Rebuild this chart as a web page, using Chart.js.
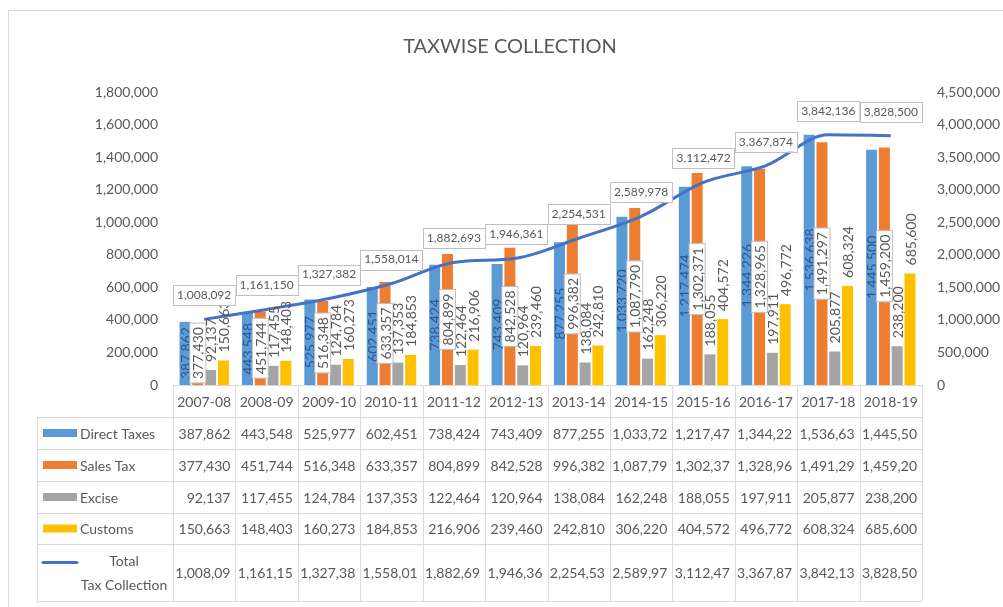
<!DOCTYPE html>
<html>
<head>
<meta charset="utf-8">
<script src="https://cdn.jsdelivr.net/npm/chart.js@4.4.1/dist/chart.umd.min.js"></script>
<style>
  body { margin: 0; background: #fff; }
</style>
</head>
<body>
<canvas id="myChart" width="1003" height="607"></canvas>
<script>
var years = ['2007-08', '2008-09', '2009-10', '2010-11', '2011-12', '2012-13', '2013-14', '2014-15', '2015-16', '2016-17', '2017-18', '2018-19'];
var directTaxes = [387862, 443548, 525977, 602451, 738424, 743409, 877255, 1033720, 1217474, 1344226, 1536638, 1445500];
var salesTax = [377430, 451744, 516348, 633357, 804899, 842528, 996382, 1087790, 1302371, 1328965, 1491297, 1459200];
var excise = [92137, 117455, 124784, 137353, 122464, 120964, 138084, 162248, 188055, 197911, 205877, 238200];
var customs = [150663, 148403, 160273, 184853, 216906, 239460, 242810, 306220, 404572, 496772, 608324, 685600];
var totalTax = [1008092, 1161150, 1327382, 1558014, 1882693, 1946361, 2254531, 2589978, 3112472, 3367874, 3842136, 3828500];
var leftTicks = [0, 200000, 400000, 600000, 800000, 1000000, 1200000, 1400000, 1600000, 1800000];
var rightTicks = [0, 500000, 1000000, 1500000, 2000000, 2500000, 3000000, 3500000, 4000000, 4500000];
var chartTitle = 'TAXWISE COLLECTION';

var grayText = '#595959';
var fontName = 'Lato';

function fmt(v){
  return v.toLocaleString('en-US');
}

// etichette sulle barre e sulla linea
var labelPlugin = {
  id: 'valueLabels',
  afterDatasetsDraw: function(chart){
    var ctx = chart.ctx;
    var bottom = chart.chartArea.bottom;
    ctx.save();
    ctx.textAlign = 'center';
    ctx.textBaseline = 'middle';
    chart.data.datasets.forEach(function(ds, i){
      var meta = chart.getDatasetMeta(i);
      meta.data.forEach(function(el, j){
        var txt = fmt(ds.data[j]);
        if (ds.type === 'line') {
          ctx.font = '12px ' + fontName;
          var w = ctx.measureText(txt).width;
          var cy = el.y - 24;
          ctx.fillStyle = '#fff';
          ctx.fillRect(el.x - w/2 - 4, cy - 10, w + 8, 20);
          ctx.strokeStyle = '#bfbfbf';
          ctx.lineWidth = 1;
          ctx.strokeRect(Math.round(el.x - w/2 - 4) + 0.5, Math.round(cy - 10) + 0.5, Math.round(w + 8), 20);
          ctx.fillStyle = grayText;
          ctx.fillText(txt, el.x, cy);
          return;
        }
        ctx.font = '14px ' + fontName;
        var tw = ctx.measureText(txt).width;
        var cy;
        if (ds.labelPos === 'center') {
          cy = (el.y + el.base) / 2;
          cy = Math.min(cy, bottom - tw/2 - 6);
        } else {
          cy = el.y - 8 - tw/2;
        }
        ctx.save();
        ctx.translate(el.x, cy);
        ctx.rotate(-Math.PI / 2);
        if (ds.labelBox) {
          ctx.fillStyle = '#fff';
          ctx.fillRect(-tw/2 - 4, -8, tw + 8, 16);
          ctx.strokeStyle = '#bfbfbf';
          ctx.lineWidth = 1;
          ctx.strokeRect(-tw/2 - 4, -8, tw + 8, 16);
        }
        ctx.fillStyle = ds.labelColor;
        ctx.fillText(txt, 0, 1);
        ctx.restore();
      });
    });
    ctx.restore();
  }
};

// tabella dati sotto il grafico + titolo + cornice
var tablePlugin = {
  id: 'dataTable',
  afterDraw: function(chart){
    var ctx = chart.ctx;
    var xs = chart.scales.x;
    var area = chart.chartArea;
    var colW = xs.width / years.length;
    var left = xs.left, right = xs.right;
    var tableLeft = 37;
    var top = area.bottom;
    var heights = [32, 32, 32, 32, 31, 57];
    var ys = [top];
    heights.forEach(function(h){ ys.push(ys[ys.length - 1] + h); });

    ctx.save();
    // cornice
    ctx.strokeStyle = '#d9d9d9';
    ctx.lineWidth = 1;
    ctx.beginPath();
    ctx.moveTo(8.5, 607); ctx.lineTo(8.5, 10.5); ctx.lineTo(1003, 10.5);
    ctx.stroke();

    // titolo
    ctx.fillStyle = grayText;
    ctx.font = '20px ' + fontName;
    ctx.textAlign = 'center';
    ctx.textBaseline = 'middle';
    ctx.fillText(chartTitle, 510, 47);

    // linee tabella
    ctx.strokeStyle = '#d9d9d9';
    ctx.beginPath();
    ctx.moveTo(left, Math.round(ys[0]) + 0.5); ctx.lineTo(right, Math.round(ys[0]) + 0.5);
    for (var r = 1; r < ys.length; r++) {
      ctx.moveTo(tableLeft, Math.round(ys[r]) + 0.5);
      ctx.lineTo(right, Math.round(ys[r]) + 0.5);
    }
    for (var c = 0; c <= years.length; c++) {
      var cx = Math.round(left + c * colW) + 0.5;
      ctx.moveTo(cx, ys[0]); ctx.lineTo(cx, ys[ys.length - 1]);
    }
    ctx.moveTo(tableLeft + 0.5, ys[1]); ctx.lineTo(tableLeft + 0.5, ys[ys.length - 1]);
    ctx.stroke();

    // intestazione anni
    ctx.font = '14px ' + fontName;
    ctx.fillStyle = grayText;
    ctx.textAlign = 'center';
    years.forEach(function(y, k){
      ctx.fillText(y, left + (k + 0.5) * colW, (ys[0] + ys[1]) / 2 + 1);
    });

    // righe
    chart.data.datasets.forEach(function(ds, i){
      var yTop = ys[i + 1], yBot = ys[i + 2];
      var cy = (yTop + yBot) / 2;
      // legenda
      if (ds.type === 'line') {
        ctx.strokeStyle = ds.borderColor;
        ctx.lineWidth = 3;
        ctx.lineCap = 'round';
        ctx.beginPath();
        ctx.moveTo(43, cy - 10); ctx.lineTo(77, cy - 10);
        ctx.stroke();
        ctx.fillStyle = grayText;
        ctx.textAlign = 'center';
        var parts = ['Total', 'Tax Collection'];
        ctx.fillText(parts[0], 124, cy - 11);
        ctx.fillText(parts[1], 124, cy + 13);
      } else {
        ctx.fillStyle = ds.backgroundColor;
        ctx.fillRect(43, cy - 4, 34, 8);
        ctx.fillStyle = grayText;
        ctx.textAlign = 'left';
        ctx.fillText(ds.label, 80, cy + 1);
      }
      // valori (tagliati come nell'originale)
      ctx.textAlign = 'right';
      ctx.fillStyle = grayText;
      ds.data.forEach(function(v, k){
        var t = fmt(v).slice(0, 8);
        ctx.fillText(t, left + (k + 1) * colW - 5, cy + 1);
      });
    });
    ctx.restore();
  }
};

var ctx = document.getElementById('myChart');
var chart = new Chart(ctx, {
  data: {
    labels: years,
    datasets: [
      { type: 'bar', label: 'Direct Taxes', data: directTaxes, backgroundColor: '#5B9BD5', yAxisID: 'y', order: 1,
        labelPos: 'center', labelBox: false, labelColor: '#2F5597' },
      { type: 'bar', label: 'Sales Tax', data: salesTax, backgroundColor: '#ED7D31', yAxisID: 'y', order: 1,
        labelPos: 'center', labelBox: true, labelColor: grayText },
      { type: 'bar', label: 'Excise', data: excise, backgroundColor: '#A5A5A5', yAxisID: 'y', order: 1,
        labelPos: 'end', labelBox: false, labelColor: grayText },
      { type: 'bar', label: 'Customs', data: customs, backgroundColor: '#FFC000', yAxisID: 'y', order: 1,
        labelPos: 'end', labelBox: false, labelColor: grayText },
      { type: 'line', label: 'Total Tax Collection', data: totalTax, borderColor: '#4472C4', borderWidth: 3,
        pointRadius: 0, cubicInterpolationMode: 'monotone', yAxisID: 'y1', order: 0 }
    ]
  },
  options: {
    responsive: false,
    animation: false,
    layout: { padding: { top: 92, bottom: 222, left: 0, right: 0 } },
    datasets: { bar: { categoryPercentage: 0.82, barPercentage: 0.86 } },
    plugins: {
      legend: { display: false },
      title: { display: false },
      tooltip: { enabled: false }
    },
    scales: {
      x: {
        grid: { display: false, drawTicks: false },
        border: { display: false },
        ticks: { display: false },
        afterFit: function(s){ s.height = 0; }
      },
      y: {
        position: 'left',
        min: 0, max: 1800000,
        grid: { display: false, drawTicks: false },
        border: { display: false },
        afterBuildTicks: function(s){ s.ticks = leftTicks.map(function(v){ return { value: v }; }); },
        ticks: { color: grayText, font: { family: fontName, size: 14 }, padding: 15,
          callback: function(v){ return fmt(v); } },
        afterFit: function(s){ s.width = 173; }
      },
      y1: {
        position: 'right',
        min: 0, max: 4500000,
        grid: { display: false, drawTicks: false },
        border: { display: false },
        afterBuildTicks: function(s){ s.ticks = rightTicks.map(function(v){ return { value: v }; }); },
        ticks: { color: grayText, font: { family: fontName, size: 14 }, padding: 15,
          callback: function(v){ return fmt(v); } },
        afterFit: function(s){ s.width = 81; }
      }
    }
  },
  plugins: [labelPlugin, tablePlugin]
});
</script>
</body>
</html>
